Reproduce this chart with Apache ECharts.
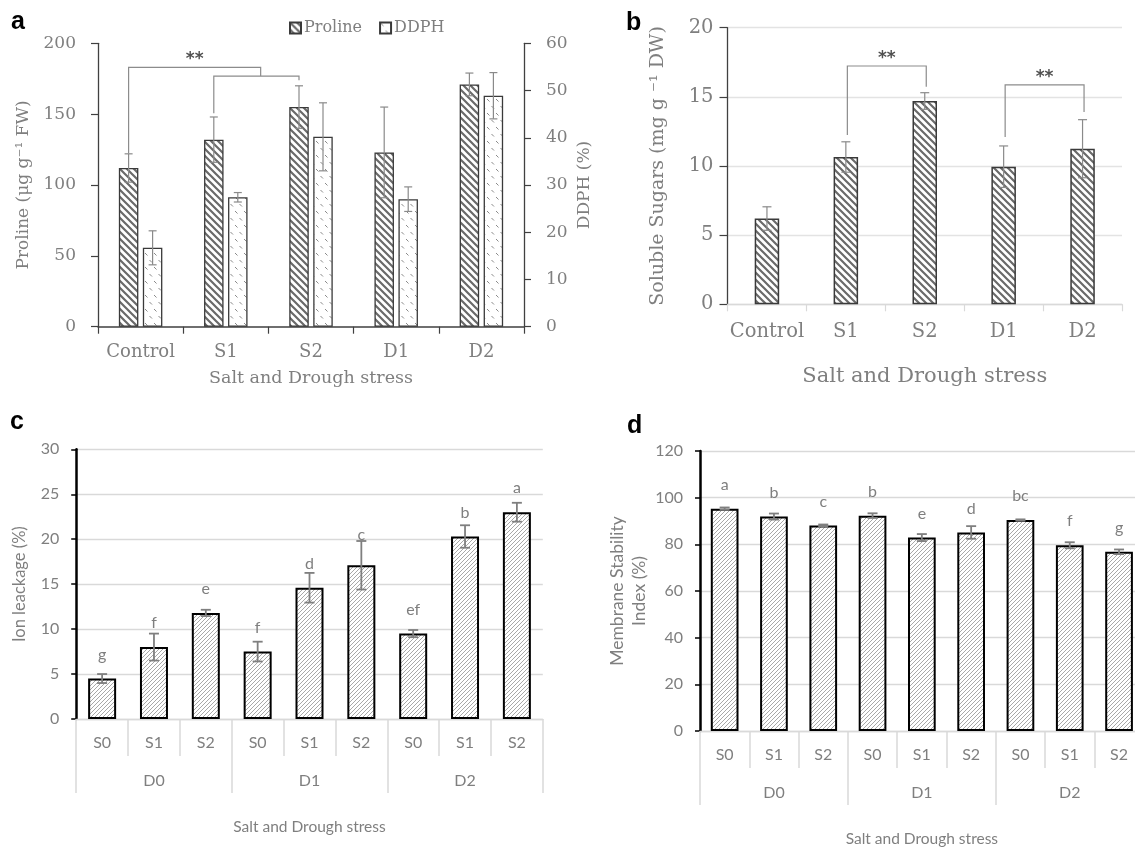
<!DOCTYPE html>
<html>
<head>
<meta charset="utf-8">
<script src="https://cdn.jsdelivr.net/npm/echarts@6.0.0/dist/echarts.min.js"></script>
<style>html,body{margin:0;padding:0;background:#fff}#c{width:1135px;height:847px}</style>
</head>
<body>
<div id="c"></div>
<script>
// ---------- data ----------
var catsA = ['Control', 'S1', 'S2', 'D1', 'D2'];
var prolineMean = [112, 132, 155, 123, 171];
var prolineSE = [10, 16, 15, 32, 8];
var ddphMean = [16.7, 27.4, 40.2, 27.0, 48.9];
var ddphSE = [3.6, 1.0, 7.2, 2.6, 4.9];
var prolineTicks = {min: 0, max: 200, interval: 50};
var ddphTicks = {min: 0, max: 60, interval: 10};
// bracket: [startCat, startY, topY, endCat, endY, showStars]
var bracketsA = [[0, 122.4, 183, 1.55, 176.9, 1], [1, 150.6, 176.9, 2, 174, 0]];

var catsB = ['Control', 'S1', 'S2', 'D1', 'D2'];
var sugarMean = [6.2, 10.65, 14.7, 9.95, 11.25];
var sugarSE = [0.85, 1.1, 0.6, 1.5, 2.1];
var sugarTicks = {min: 0, max: 20, interval: 5};
var bracketsB = [[1, 12.24, 17.23, 2, 15.73, 1], [3, 12.1, 15.86, 4, 13.9, 1]];

var saltLevels = ['S0', 'S1', 'S2'];
var droughtLevels = ['D0', 'D1', 'D2'];

var ionMean = [4.5, 8.0, 11.8, 7.5, 14.6, 17.1, 9.5, 20.3, 23.0];
var ionSE = [0.5, 1.5, 0.35, 1.1, 1.65, 2.7, 0.4, 1.25, 1.05];
var ionLetters = ['g', 'f', 'e', 'f', 'd', 'c', 'ef', 'b', 'a'];
var ionTicks = {min: 0, max: 30, interval: 5};

var msiMean = [95.3, 91.9, 88.1, 92.3, 82.9, 85.1, 90.4, 79.6, 76.8];
var msiSE = [0.5, 1.3, 0.4, 1.0, 1.5, 2.7, 0.3, 1.3, 1.0];
var msiLetters = ['a', 'b', 'c', 'b', 'e', 'd', 'bc', 'f', 'g'];
var msiTicks = {min: 0, max: 120, interval: 20};

// combined categories (drought x salt)
var comboCats = [];
droughtLevels.forEach(function (d) { saltLevels.forEach(function (s) { comboCats.push(d + '|' + s); }); });

// ---------- patterns ----------
function hatch(size, lw, color, dir) {
  var c = document.createElement('canvas');
  c.width = size; c.height = size;
  var g = c.getContext('2d');
  g.fillStyle = '#fff'; g.fillRect(0, 0, size, size);
  g.strokeStyle = color; g.lineWidth = lw; g.lineCap = 'square';
  g.beginPath();
  [-size, 0, size].forEach(function (o) {
    if (dir === 'back') { g.moveTo(o, 0); g.lineTo(o + size, size); }
    else { g.moveTo(o, size); g.lineTo(o + size, 0); }
  });
  g.stroke();
  return {image: c, repeat: 'repeat'};
}
function dashes() {
  var c = document.createElement('canvas');
  c.width = 9; c.height = 14;
  var g = c.getContext('2d');
  g.fillStyle = '#fff'; g.fillRect(0, 0, 9, 14);
  g.strokeStyle = '#8a8a8a'; g.lineWidth = 1;
  g.beginPath();
  g.moveTo(1, 1); g.lineTo(3.5, 3.5);
  g.moveTo(5.5, 8); g.lineTo(8, 10.5);
  g.stroke();
  return {image: c, repeat: 'repeat'};
}
var hatchDark = hatch(7, 2.2, '#6a6a6a', 'back');
var hatchFine = hatch(4, 1, '#a8a8a8', 'fwd');
var dotPat = dashes();

// ---------- helpers ----------
var SERIF = '"DejaVu Serif", serif';
var SANS = 'Lato, "Open Sans", sans-serif';
var grayA = '#7f7f7f';

function errRender(offset, capHalf, color, lw) {
  return function (params, api) {
    var x = api.value(0), lo = api.value(1), hi = api.value(2);
    var p1 = api.coord([x, hi]), p2 = api.coord([x, lo]);
    var cx = p1[0] + offset;
    var st = {stroke: color, lineWidth: lw};
    return {type: 'group', children: [
      {type: 'line', shape: {x1: cx, y1: p1[1], x2: cx, y2: p2[1]}, style: st},
      {type: 'line', shape: {x1: cx - capHalf, y1: p1[1], x2: cx + capHalf, y2: p1[1]}, style: st},
      {type: 'line', shape: {x1: cx - capHalf, y1: p2[1], x2: cx + capHalf, y2: p2[1]}, style: st}
    ]};
  };
}
function bracketRender(offset) {
  return function (params, api) {
    function px(c, v) {
      var f = Math.floor(c), t = c - f;
      var a = api.coord([f, v]);
      if (t === 0) return [a[0] + offset, a[1]];
      var b = api.coord([f + 1, v]);
      return [a[0] + (b[0] - a[0]) * t + offset, a[1]];
    }
    var s = api.value(0), y0 = api.value(1), yt = api.value(2), e = api.value(3), y1 = api.value(4), star = api.value(5);
    var p0 = px(s, y0), p1 = px(s, yt), p2 = px(e, yt), p3 = px(e, y1);
    var ch = [{type: 'polyline', shape: {points: [p0, p1, p2, p3]}, style: {stroke: '#8c8c8c', lineWidth: 1.2, fill: null}}];
    if (star) ch.push({type: 'text', style: {text: '**', x: (p1[0] + p2[0]) / 2, y: p1[1] + 1, align: 'center', verticalAlign: 'bottom', font: 'bold 17px "DejaVu Sans"', fill: '#505050'}});
    return {type: 'group', children: ch};
  };
}
function errData(mean, se) { return mean.map(function (m, i) { return [i, m - se[i], m + se[i]]; }); }

// letters sit above the bar; lift them when a long error bar would cover them
function barData(mean, se, pxPerUnit) {
  return mean.map(function (m, i) {
    var errPx = se[i] * pxPerUnit;
    return errPx > 20 ? {value: m, label: {distance: errPx - 2}} : m;
  });
}

function valAxisSerif(grid, ticks, extra) {
  var o = {
    type: 'value', gridIndex: grid, min: ticks.min, max: ticks.max, interval: ticks.interval,
    axisLine: {show: true, lineStyle: {color: '#404040', width: 1.3}},
    axisTick: {show: true, length: 7, lineStyle: {color: '#404040', width: 1.2}},
    axisLabel: {color: grayA, fontFamily: SERIF, fontSize: 17, margin: 22},
    splitLine: {show: false},
    nameLocation: 'middle',
    nameTextStyle: {color: grayA, fontFamily: SERIF, fontSize: 17}
  };
  for (var k in extra) o[k] = extra[k];
  return o;
}
function valAxisSans(grid, ticks, name, gap, nameSize) {
  return {
    type: 'value', gridIndex: grid, min: ticks.min, max: ticks.max, interval: ticks.interval, position: 'left',
    axisLine: {show: true, lineStyle: {color: '#000', width: 2.5}},
    axisTick: {show: true, length: 5, lineStyle: {color: '#000', width: 1.5}},
    axisLabel: {color: grayA, fontFamily: SANS, fontSize: 16, margin: 17},
    splitLine: {show: true, lineStyle: {color: '#d9d9d9', width: 1.3}},
    name: name, nameLocation: 'middle', nameGap: gap,
    nameTextStyle: {color: grayA, fontFamily: SANS, fontSize: nameSize, lineHeight: 22}
  };
}
function saltAxis(grid) {
  return {
    type: 'category', gridIndex: grid, position: 'bottom', data: comboCats,
    axisLine: {show: true, onZero: false, lineStyle: {color: '#d9d9d9', width: 1.3}},
    axisTick: {show: true, length: 37, interval: 0, lineStyle: {color: '#d9d9d9', width: 1.5}},
    axisLabel: {interval: 0, margin: 16, color: grayA, fontFamily: SANS, fontSize: 16,
      formatter: function (v) { return v.split('|')[1]; }}
  };
}
function droughtAxis(grid) {
  return {
    type: 'category', gridIndex: grid, position: 'bottom', data: droughtLevels,
    axisLine: {show: false, onZero: false},
    axisTick: {show: true, length: 74, interval: 0, lineStyle: {color: '#d9d9d9', width: 1.5}},
    axisLabel: {interval: 0, margin: 54, color: grayA, fontFamily: SANS, fontSize: 16},
    name: 'Salt and Drough stress', nameLocation: 'middle', nameGap: 100,
    nameTextStyle: {color: grayA, fontFamily: SANS, fontSize: 15.5}
  };
}
function letterLabel(letters) {
  return {show: true, position: 'top', distance: 16, color: grayA, fontFamily: SANS, fontSize: 16,
    formatter: function (p) { return letters[p.dataIndex]; }};
}

var gridC = {left: 76.2, top: 449.3, width: 466.6, height: 269.7, outerBoundsMode: 'none'};
var gridD = {left: 700, top: 451, width: 443.7, height: 280, outerBoundsMode: 'none'};

var option = {
  animation: false,
  backgroundColor: '#ffffff',
  legend: {
    data: ['Proline', 'DDPH'], left: 289, top: 20, padding: 0, itemWidth: 11, itemHeight: 11, itemGap: 17,
    icon: 'rect', selectedMode: false,
    textStyle: {color: grayA, fontFamily: SERIF, fontSize: 16, padding: [0, 0, 0, -2]}
  },
  graphic: [
    {type: 'text', left: 11, top: 10, style: {text: 'a', font: 'bold 25px "Liberation Sans"', fill: '#000'}},
    {type: 'text', left: 626, top: 11, style: {text: 'b', font: 'bold 25px "Liberation Sans"', fill: '#000'}},
    {type: 'text', left: 10, top: 410, style: {text: 'c', font: 'bold 25px "Liberation Sans"', fill: '#000'}},
    {type: 'text', left: 627, top: 414, style: {text: 'd', font: 'bold 25px "Liberation Sans"', fill: '#000'}}
  ],
  grid: [
    {left: 98, top: 43.3, width: 426, height: 283.4, outerBoundsMode: 'none'},
    {left: 727.5, top: 27.7, width: 394.5, height: 276.6, outerBoundsMode: 'none'},
    gridC, gridD
  ],
  xAxis: [
    {type: 'category', gridIndex: 0, position: 'bottom', data: catsA,
      axisLine: {show: true, lineStyle: {color: '#404040', width: 1.5}},
      axisTick: {show: true, length: 7, lineStyle: {color: '#404040', width: 1.2}},
      axisLabel: {interval: 0, margin: 17, color: grayA, fontFamily: SERIF, fontSize: 18},
      name: 'Salt and Drough stress', nameLocation: 'middle', nameGap: 43,
      nameTextStyle: {color: grayA, fontFamily: SERIF, fontSize: 17.5}},
    {type: 'category', gridIndex: 1, position: 'bottom', data: catsB,
      axisLine: {show: true, lineStyle: {color: '#d9d9d9', width: 1.3}},
      axisTick: {show: true, length: 7, lineStyle: {color: '#d9d9d9', width: 1.2}},
      axisLabel: {interval: 0, margin: 18, color: grayA, fontFamily: SERIF, fontSize: 19.5},
      name: 'Salt and Drough stress', nameLocation: 'middle', nameGap: 62,
      nameTextStyle: {color: grayA, fontFamily: SERIF, fontSize: 21}},
    saltAxis(2), droughtAxis(2), saltAxis(3), droughtAxis(3)
  ],
  yAxis: [
    valAxisSerif(0, prolineTicks, {position: 'left', name: 'Proline (μg g⁻¹ FW)', nameGap: 66}),
    valAxisSerif(0, ddphTicks, {position: 'right', name: 'DDPH (%)', nameGap: 52, nameRotate: 90}),
    valAxisSerif(1, sugarTicks, {position: 'left', name: 'Soluble Sugars (mg g ⁻¹ DW)', nameGap: 60,
      axisLabel: {color: grayA, fontFamily: SERIF, fontSize: 19.5, margin: 14},
      axisTick: {show: true, length: 8, lineStyle: {color: '#404040', width: 1.2}},
      splitLine: {show: true, lineStyle: {color: '#e3e3e3', width: 1.3}},
      nameTextStyle: {color: grayA, fontFamily: SERIF, fontSize: 19}}),
    valAxisSans(2, ionTicks, 'Ion leackage (%)', 46, 16.5),
    valAxisSans(3, msiTicks, 'Membrane Stability\nIndex (%)', 50, 17.5)
  ],
  series: [
    {name: 'Proline', type: 'bar', xAxisIndex: 0, yAxisIndex: 0, data: prolineMean, barWidth: 19.5, barGap: '23%',
      itemStyle: {color: hatchDark, borderColor: '#3a3a3a', borderWidth: 1.3}},
    {name: 'DDPH', type: 'bar', xAxisIndex: 0, yAxisIndex: 1, data: ddphMean, barWidth: 19.5, barGap: '23%',
      itemStyle: {color: dotPat, borderColor: '#3a3a3a', borderWidth: 1.3}},
    {type: 'custom', xAxisIndex: 0, yAxisIndex: 0, z: 5, data: errData(prolineMean, prolineSE),
      renderItem: errRender(-12, 4, '#8a8a8a', 1.2), encode: {x: 0, y: [1, 2]}},
    {type: 'custom', xAxisIndex: 0, yAxisIndex: 1, z: 5, data: errData(ddphMean, ddphSE),
      renderItem: errRender(12, 4, '#8a8a8a', 1.2), encode: {x: 0, y: [1, 2]}},
    {type: 'custom', xAxisIndex: 0, yAxisIndex: 0, z: 5, data: bracketsA,
      renderItem: bracketRender(-12), encode: {x: [0, 3], y: [1, 2, 4]}},

    {name: 'Soluble sugars', type: 'bar', xAxisIndex: 1, yAxisIndex: 2, data: sugarMean, barWidth: 24.5,
      itemStyle: {color: hatchDark, borderColor: '#3a3a3a', borderWidth: 1.5}},
    {type: 'custom', xAxisIndex: 1, yAxisIndex: 2, z: 5, data: errData(sugarMean, sugarSE),
      renderItem: errRender(0, 4.5, '#8a8a8a', 1.2), encode: {x: 0, y: [1, 2]}},
    {type: 'custom', xAxisIndex: 1, yAxisIndex: 2, z: 5, data: bracketsB,
      renderItem: bracketRender(1.5), encode: {x: [0, 3], y: [1, 2, 4]}},

    {name: 'Ion leakage', type: 'bar', xAxisIndex: 2, yAxisIndex: 3,
      data: barData(ionMean, ionSE, gridC.height / (ionTicks.max - ionTicks.min)), barWidth: 28,
      itemStyle: {color: hatchFine, borderColor: '#000', borderWidth: 2},
      label: letterLabel(ionLetters)},
    {type: 'custom', xAxisIndex: 2, yAxisIndex: 3, z: 5, data: errData(ionMean, ionSE),
      renderItem: errRender(0, 5, '#7f7f7f', 1.8), encode: {x: 0, y: [1, 2]}},

    {name: 'MSI', type: 'bar', xAxisIndex: 4, yAxisIndex: 4,
      data: barData(msiMean, msiSE, gridD.height / (msiTicks.max - msiTicks.min)), barWidth: 27.7,
      itemStyle: {color: hatchFine, borderColor: '#000', borderWidth: 2},
      label: letterLabel(msiLetters)},
    {type: 'custom', xAxisIndex: 4, yAxisIndex: 4, z: 5, data: errData(msiMean, msiSE),
      renderItem: errRender(0, 5, '#7f7f7f', 1.8), encode: {x: 0, y: [1, 2]}}
  ]
};
var chart = echarts.init(document.getElementById('c'), null, {renderer: 'canvas'});
chart.setOption(option);
</script>
</body>
</html>
